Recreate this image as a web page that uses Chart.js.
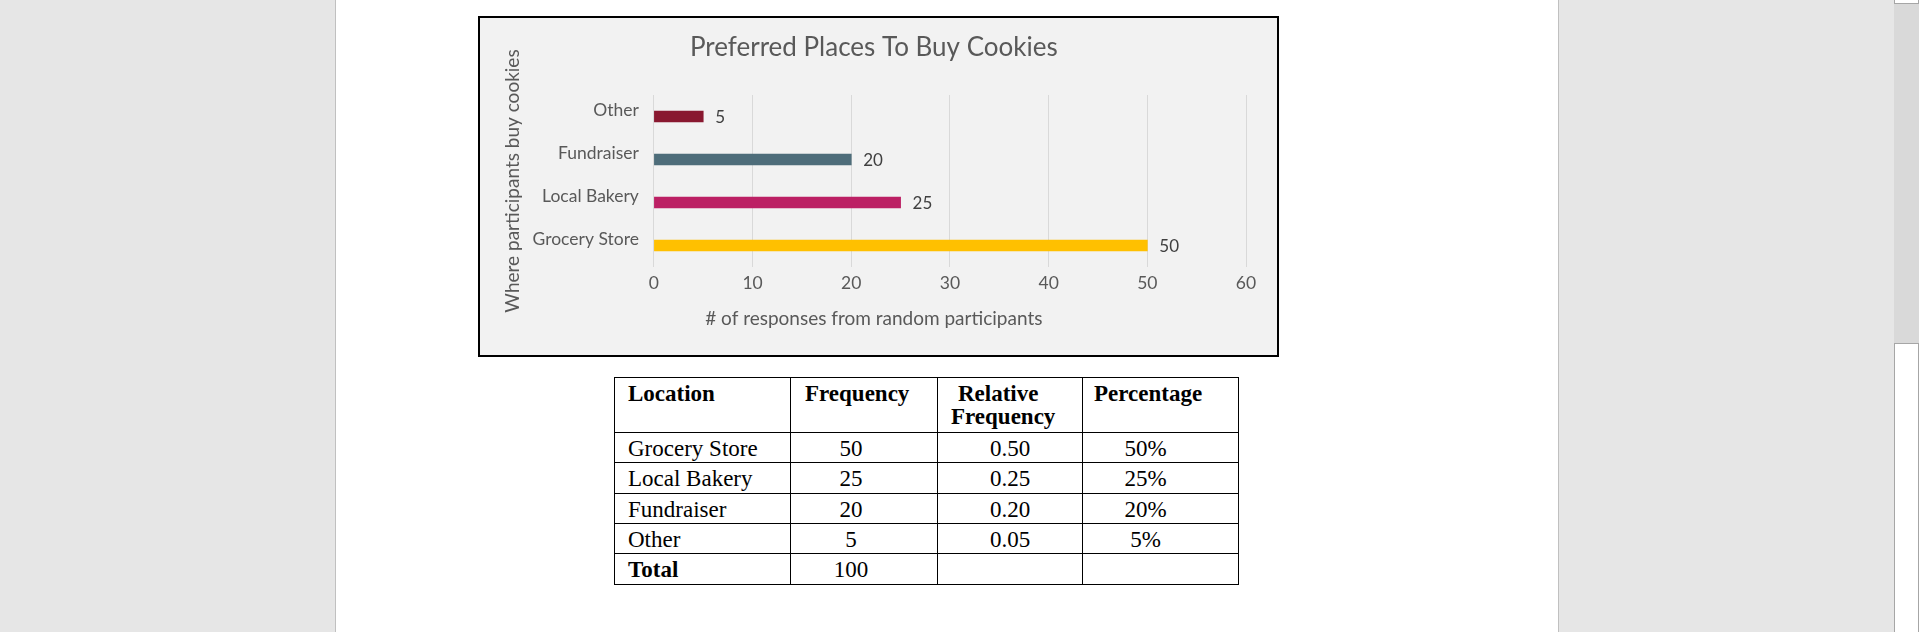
<!DOCTYPE html>
<html>
<head>
<meta charset="utf-8">
<script src="https://cdn.jsdelivr.net/npm/chart.js@4.4.0/dist/chart.umd.min.js"></script>
<style>
  body { margin: 0; width: 1919px; height: 632px; overflow: hidden; background: #fff; position: relative; }
  .gutter { position: absolute; top: 0; height: 632px; width: 335px; background: #e6e6e6; }
  #gutterLeft { left: 0; border-right: 1px solid #c0c0c0; }
  #gutterRight { left: 1558px; border-left: 1px solid #c0c0c0; }
  #scrollTrack { position: absolute; left: 1894px; top: 0; width: 25px; height: 632px; background: #d9d9d9; }
  #scrollTop { position: absolute; left: 1894px; top: 0; width: 23px; height: 3px; background: #fff; border: 1px solid #a6a6a6; border-top: none; }
  #scrollThumb { position: absolute; left: 1894px; top: 343px; width: 23px; height: 289px; background: #fff; border: 1px solid #a6a6a6; border-bottom: none; }
  #chartBox { position: absolute; left: 478px; top: 16px; width: 797px; height: 337px; border: 2px solid #000; background: #f2f2f2; }
  #chartBox canvas { display: block; }
  #freqTable { position: absolute; left: 614px; top: 377px; border-collapse: collapse; table-layout: fixed;
    font-family: "Liberation Serif", "Times New Roman", serif; font-size: 23px; line-height: 23px; color: #000; }
  #freqTable td { border: 1px solid #000; padding: 4px 0 0 0; vertical-align: top; white-space: nowrap; }
  #freqTable th { border: 1px solid #000; padding: 4px 0 0 0; vertical-align: top; text-align: left; font-weight: bold; }
</style>
</head>
<body>
<div class="gutter" id="gutterLeft"></div>
<div class="gutter" id="gutterRight"></div>
<div id="scrollTrack"></div>
<div id="scrollTop"></div>
<div id="scrollThumb"></div>

<div id="chartBox"><canvas id="cookieChart"></canvas></div>

<table id="freqTable">
  <colgroup><col style="width:176px"><col style="width:147px"><col style="width:145px"><col style="width:156px"></colgroup>
  <thead>
    <tr style="height:55px">
      <th style="padding-left:13px">Location</th>
      <th style="padding-left:14px">Frequency</th>
      <th style="padding-left:13px; white-space:normal"><span style="padding-left:7px">Relative</span><br>Frequency</th>
      <th style="padding-left:11px">Percentage</th>
    </tr>
  </thead>
  <tbody id="freqBody"></tbody>
</table>

<script>
// data
const locations    = ['Grocery Store', 'Local Bakery', 'Fundraiser', 'Other'];
const responses    = [50, 25, 20, 5];
const relFrequency = ['0.50', '0.25', '0.20', '0.05'];
const percentages  = ['50%', '25%', '20%', '5%'];
const totalResponses = 100;
const barColors    = ['#ffc000', '#bc2064', '#4e6d7a', '#891830'];
const xMax  = 60;
const xStep = 10;

// table under the chart
const rowHeights = [30, 31, 30, 30, 31];
const body = document.getElementById('freqBody');
locations.forEach(function (loc, i) {
  const tr = document.createElement('tr');
  tr.style.height = rowHeights[i] + 'px';
  tr.innerHTML =
    '<td style="padding-left:13px">' + loc + '</td>' +
    '<td style="text-align:center; padding-right:26px">' + responses[i] + '</td>' +
    '<td style="text-align:center">' + relFrequency[i] + '</td>' +
    '<td style="text-align:center; padding-right:30px">' + percentages[i] + '</td>';
  body.appendChild(tr);
});
const totalRow = document.createElement('tr');
totalRow.style.height = rowHeights[4] + 'px';
totalRow.innerHTML =
  '<td style="padding-left:13px; font-weight:bold">Total</td>' +
  '<td style="text-align:center; padding-right:26px">' + totalResponses + '</td><td></td><td></td>';
body.appendChild(totalRow);

// value labels at the end of each bar
const barValueLabels = {
  id: 'barValueLabels',
  afterDatasetsDraw(chart) {
    const ctx = chart.ctx;
    const meta = chart.getDatasetMeta(0);
    ctx.save();
    ctx.font = '17px Lato';
    ctx.fillStyle = '#404040';
    ctx.textAlign = 'left';
    ctx.textBaseline = 'middle';
    meta.data.forEach(function (bar, i) {
      ctx.fillText(String(chart.data.datasets[0].data[i]), bar.x + 12, bar.y + 1);
    });
    ctx.restore();
  }
};

Chart.defaults.font.family = 'Lato';

const ctx = document.getElementById('cookieChart').getContext('2d');
new Chart(ctx, {
  type: 'bar',
  data: {
    labels: locations,
    datasets: [{
      label: 'Responses',
      data: responses,
      backgroundColor: barColors,
      barThickness: 11
    }]
  },
  options: {
    indexAxis: 'y',
    responsive: true,
    maintainAspectRatio: false,
    animation: false,
    layout: { padding: { left: 21.6, right: 31, top: 0, bottom: 0 } },
    plugins: {
      legend: { display: false },
      tooltip: { enabled: false },
      title: {
        display: true,
        text: 'Preferred Places To Buy Cookies',
        color: '#595959',
        font: { size: 26, weight: 'normal' },
        padding: { top: 13.9, bottom: 31.9 }
      },
      subtitle: {
        display: true,
        position: 'bottom',
        text: '# of responses from random participants',
        color: '#595959',
        font: { size: 19 },
        padding: { top: 8.6, bottom: 24.6 }
      }
    },
    scales: {
      x: {
        min: 0,
        max: xMax,
        ticks: { stepSize: xStep, color: '#595959', font: { size: 17.5 }, padding: 5.5 },
        grid: { color: '#d9d9d9', drawTicks: false },
        border: { display: false }
      },
      y: {
        reverse: true,
        grid: { color: 'transparent', drawTicks: true, tickLength: 15 },
        border: { display: false },
        ticks: { color: '#595959', font: { size: 17.5 }, padding: 0, labelOffset: -6 },
        title: {
          display: true,
          text: 'Where participants buy cookies',
          color: '#595959',
          font: { size: 19 },
          padding: { top: 0, bottom: 8.1 }
        }
      }
    }
  },
  plugins: [barValueLabels]
});
</script>
</body>
</html>
